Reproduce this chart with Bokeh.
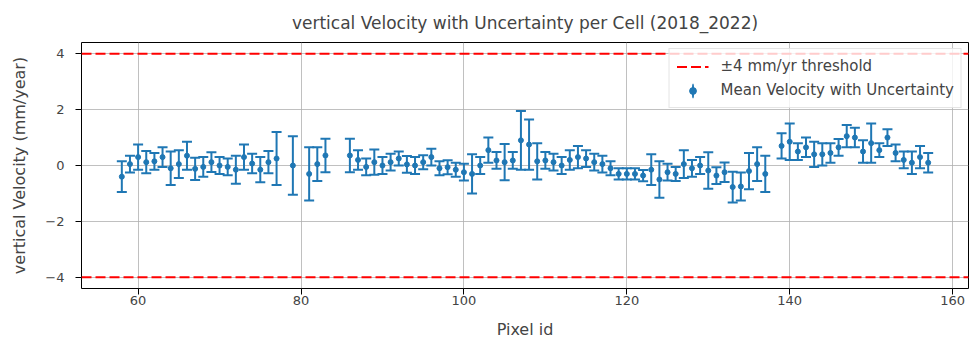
import math
from bokeh.plotting import figure
from bokeh.models import Range1d, FixedTicker, Span, Legend, LegendItem, ColumnDataSource
from bokeh.embed import file_html
from bokeh.resources import INLINE

# ---- data ----
pixel_id = list(range(58, 78)) + [79, 81, 82, 83] + list(range(86, 138)) + list(range(139, 158))

velocity = [
    -0.40, 0.05, 0.30, 0.12, 0.15, 0.30, -0.10, 0.05, 0.35, -0.12,   # 58-67
    -0.05, 0.12, 0.00, -0.05, -0.15, 0.30, 0.07, -0.15, 0.12, 0.25,  # 68-77
    0.00, -0.30, 0.05, 0.36,                                          # 79,81,82,83
    0.36, 0.20, -0.05, 0.12, 0.00, 0.12, 0.25, 0.04, 0.00, 0.12,     # 86-95
    0.30, -0.10, -0.06, -0.15, -0.24, -0.30, 0.00, 0.55, 0.18, 0.12, # 96-105
    0.18, 0.90, 0.75, 0.15, 0.18, 0.12, 0.00, 0.20, 0.30, 0.25,      # 106-115
    0.12, 0.05, -0.10, -0.30, -0.30, -0.30, -0.36, -0.15, -0.50, -0.24,  # 116-125
    -0.30, 0.05, -0.10, 0.00, -0.18, -0.36, -0.24, -0.77, -0.75, -0.20, # 126-135
    0.05, -0.30,                                                      # 136-137
    0.70, 0.85, 0.50, 0.65, 0.40, 0.40, 0.45, 0.65, 1.05, 1.00,      # 139-148
    0.50, 0.80, 0.55, 1.00, 0.45, 0.20, 0.10, 0.30, 0.10,            # 149-157
]

uncertainty = [
    0.55, 0.30, 0.45, 0.40, 0.30, 0.35, 0.60, 0.50, 0.50, 0.40,
    0.35, 0.35, 0.30, 0.30, 0.50, 0.45, 0.35, 0.45, 0.40, 0.95,
    1.05, 0.95, 0.60, 0.60,
    0.60, 0.35, 0.30, 0.45, 0.30, 0.30, 0.25, 0.30, 0.30, 0.25,
    0.30, 0.25, 0.25, 0.25, 0.30, 0.70, 0.30, 0.45, 0.30, 0.65,
    0.30, 1.05, 0.90, 0.65, 0.30, 0.30, 0.30, 0.35, 0.40, 0.30,
    0.30, 0.30, 0.25, 0.20, 0.20, 0.20, 0.20, 0.55, 0.65, 0.30,
    0.25, 0.50, 0.30, 0.30, 0.65, 0.30, 0.35, 0.55, 0.50, 0.65,
    0.60, 0.65,
    0.45, 0.65, 0.30, 0.35, 0.45, 0.40, 0.35, 0.30, 0.40, 0.35,
    0.40, 0.70, 0.25, 0.30, 0.30, 0.30, 0.40, 0.40, 0.35,
]

threshold = 4.0
x_ticks = [60, 80, 100, 120, 140, 160]
y_ticks = [-4, -2, 0, 2, 4]
y_tick_labels = ["\u22124", "\u22122", "0", "2", "4"]

title_text = "vertical Velocity with Uncertainty per Cell (2018_2022)"
x_label = "Pixel id"
y_label = "vertical Velocity (mm/year)"
legend_threshold = "\u00b14 mm/yr threshold"
legend_series = "Mean Velocity with Uncertainty"

# ---- derived ----
lower = [v - e for v, e in zip(velocity, uncertainty)]
upper = [v + e for v, e in zip(velocity, uncertainty)]
src = ColumnDataSource(dict(x=pixel_id, y=velocity, lo=lower, hi=upper))

xmin, xmax = min(pixel_id), max(pixel_id)
xpad = 0.05 * (xmax - xmin)
ypad = 0.05 * (2 * threshold)

BLUE = "#1f77b4"
FONT = "DejaVu Sans"

p = figure(width=972, height=343, output_backend="svg", toolbar_location=None,
           x_range=Range1d(xmin - xpad, xmax + xpad),
           y_range=Range1d(-threshold - ypad, threshold + ypad),
           min_border_left=81, min_border_right=4, min_border_top=42, min_border_bottom=55)

p.title.text = title_text
p.title.align = "center"
p.title.text_font = FONT
p.title.text_font_size = "17px"
p.title.text_font_style = "normal"
p.title.standoff = 20

p.outline_line_color = "black"
p.outline_line_width = 1
p.background_fill_color = "white"
p.border_fill_color = "white"

for ax in (p.xaxis[0], p.yaxis[0]):
    ax.axis_line_color = None
    ax.major_tick_in = 0
    ax.major_tick_out = 6
    ax.minor_tick_line_color = None
    ax.major_label_text_font = FONT
    ax.major_label_text_font_size = "13px"
    ax.axis_label_text_font = FONT
    ax.axis_label_text_font_size = "16px"
    ax.axis_label_text_font_style = "normal"

p.xaxis.major_label_standoff = 1
p.yaxis.major_label_standoff = 11

p.xaxis.ticker = FixedTicker(ticks=x_ticks)
p.yaxis.ticker = FixedTicker(ticks=y_ticks)
p.yaxis.major_label_overrides = {t: l for t, l in zip(y_ticks, y_tick_labels)}
p.xaxis.axis_label = x_label
p.yaxis.axis_label = y_label
p.xaxis.axis_label_standoff = 12
p.yaxis.axis_label_standoff = 13

p.xgrid.ticker = FixedTicker(ticks=x_ticks)
p.ygrid.ticker = FixedTicker(ticks=y_ticks)
p.grid.grid_line_color = "#b0b0b0"
p.grid.grid_line_width = 0.8

# threshold lines
for loc in (threshold, -threshold):
    p.add_layout(Span(location=loc, dimension="width", line_color="red",
                      line_width=2, line_dash="10 4"))

# error bars
p.segment(x0="x", y0="lo", x1="x", y1="hi", source=src, line_color=BLUE, line_width=2)
p.scatter(x="x", y="lo", source=src, marker="dash", size=10, line_color=BLUE, line_width=2)
p.scatter(x="x", y="hi", source=src, marker="dash", size=10, line_color=BLUE, line_width=2)
p.scatter(x="x", y="y", source=src, marker="circle", size=5, fill_color=BLUE, line_color=BLUE)

# legend proxies (no visible data)
nan = float("nan")
proxy_src = ColumnDataSource(dict(x=[nan], y=[nan]))
lg_line = p.line(x="x", y="y", source=proxy_src, line_color="red", line_width=2, line_dash="10 4")
lg_bar = p.ellipse(x="x", y="y", width=1, height=18, width_units="screen", height_units="screen",
                   source=proxy_src, fill_color=BLUE, line_color=BLUE, line_width=1.5)
lg_dot = p.scatter(x="x", y="y", source=proxy_src, marker="circle", size=5,
                   fill_color=BLUE, line_color=BLUE)

legend = Legend(items=[LegendItem(label=legend_threshold, renderers=[lg_line]),
                       LegendItem(label=legend_series, renderers=[lg_bar, lg_dot])],
                location="top_right")
legend.margin = 6
legend.padding = 7
legend.spacing = 4
legend.label_standoff = 12
legend.label_height = 20
legend.glyph_width = 32
legend.glyph_height = 17
legend.label_text_font = FONT
legend.label_text_font_size = "15px"
legend.border_line_color = "#cccccc"
legend.background_fill_alpha = 0.8
p.add_layout(legend)

open("out.html", "w").write(file_html(p, INLINE))
